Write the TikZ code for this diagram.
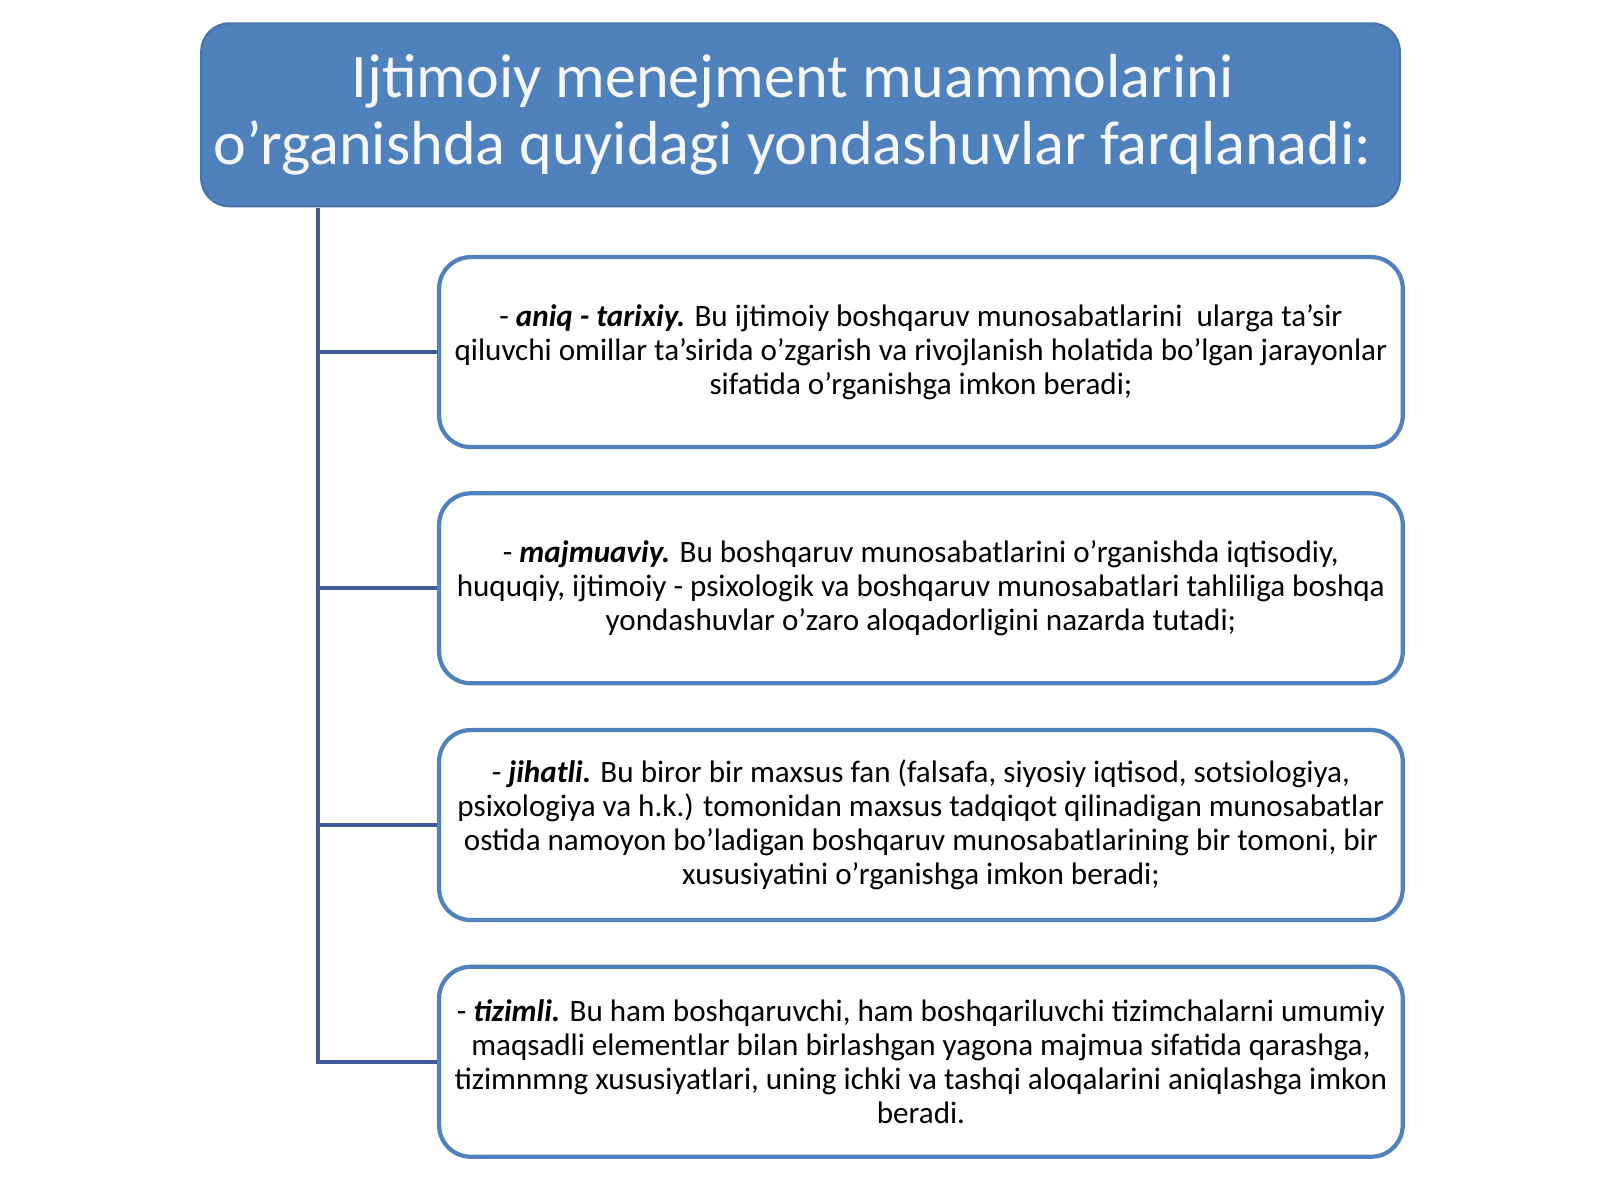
\documentclass[tikz,border=0pt]{standalone}
\usepackage{fontspec}
\setmainfont{Carlito}
\usepackage{tikz}
\definecolor{titleblue}{HTML}{4F81BD}
\definecolor{boxblue}{HTML}{4F81BD}
\definecolor{linkblue}{HTML}{3F5A98}

\begin{document}
\begin{tikzpicture}[x=0.010204cm,y=-0.010204cm,
	titlebox/.style={fill=titleblue,draw=titleblue!90!black,line width=0.6pt,rounded corners=8pt,
		text=white!94!titleblue,align=center,minimum width=11.99cm,minimum height=1.83cm,
		font=\fontsize{17.7}{18.9}\selectfont},
	itembox/.style={draw=boxblue,line width=1.2pt,fill=white,rounded corners=9pt,
		align=center,minimum width=9.64cm,minimum height=1.9cm,
		font=\fontsize{8.85}{9.65}\selectfont},
	link/.style={draw=linkblue,line width=1.1pt}]
	\useasboundingbox (0,0) rectangle (1568,1176);
	
	%Titulo
	\node[titlebox] (title) at (784.5,112.5) {Ijtimoiy menejment muammolarini\hspace*{1.6mm}\\o’rganishda quyidagi yondashuvlar farqlanadi:\hspace*{1.6mm}};
	
	%Caixas
	\node[itembox] (aniq) at (902.5,345) {- \textbf{\textit{aniq - tarixiy.}} Bu ijtimoiy boshqaruv munosabatlarini\ \ ularga ta’sir\\qiluvchi omillar ta’sirida o’zgarish va rivojlanish holatida bo’lgan jarayonlar\\sifatida o’rganishga imkon beradi;};
	\node[itembox] (majm) at (902.5,576.5) {- \textbf{\textit{majmuaviy.}} Bu boshqaruv munosabatlarini o’rganishda iqtisodiy,\\huquqiy, ijtimoiy - psixologik va boshqaruv munosabatlari tahliliga boshqa\\yondashuvlar o’zaro aloqadorligini nazarda tutadi;};
	\node[itembox] (jiha) at (902.5,808.5) {- \textbf{\textit{jihatli.}} Bu biror bir maxsus fan (falsafa, siyosiy iqtisod, sotsiologiya,\\psixologiya va h.k.) tomonidan maxsus tadqiqot qilinadigan munosabatlar\\ostida namoyon bo’ladigan boshqaruv munosabatlarining bir tomoni, bir\\xususiyatini o’rganishga imkon beradi;};
	\node[itembox] (tizi) at (902.5,1040.5) {- \textbf{\textit{tizimli.}} Bu ham boshqaruvchi, ham boshqariluvchi tizimchalarni umumiy\\maqsadli elementlar bilan birlashgan yagona majmua sifatida qarashga,\\tizimnmng xususiyatlari, uning ichki va tashqi aloqalarini aniqlashga imkon\\beradi.};
	
	%Linhas
	\coordinate (trunk) at (312,204);
	\draw[link] (trunk) |- (tizi.west);
	\draw[link] (trunk |- aniq.west) -- (aniq.west);
	\draw[link] (trunk |- majm.west) -- (majm.west);
	\draw[link] (trunk |- jiha.west) -- (jiha.west);
\end{tikzpicture}
\end{document}
